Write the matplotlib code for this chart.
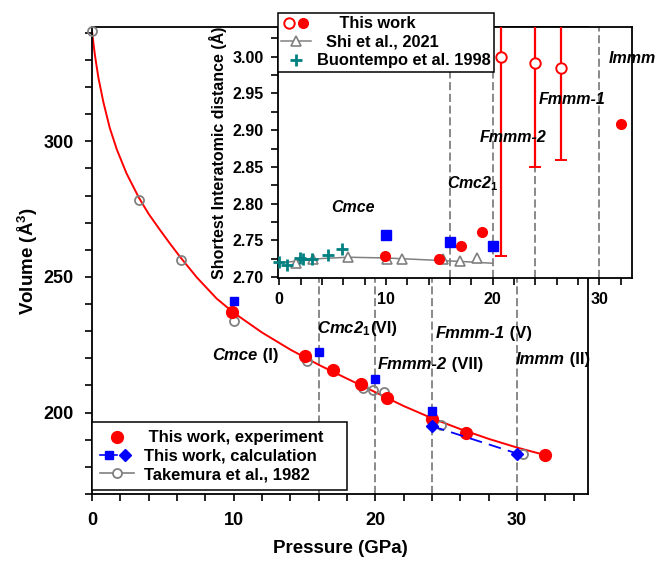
import matplotlib
matplotlib.use('Agg')
import matplotlib.pyplot as plt
from matplotlib.lines import Line2D
from matplotlib.legend_handler import HandlerTuple
from matplotlib.ticker import MultipleLocator, FormatStrFormatter

plt.rcParams['font.family'] = ['Liberation Sans', 'DejaVu Sans']
plt.rcParams['font.weight'] = 'bold'
plt.rcParams['axes.labelweight'] = 'bold'
plt.rcParams['mathtext.fontset'] = 'custom'
plt.rcParams['mathtext.rm'] = 'Liberation Sans:bold'
plt.rcParams['mathtext.it'] = 'Liberation Sans:italic:bold'
plt.rcParams['mathtext.default'] = 'rm'

# --- dados: volume x pressao ---
p_fit = [0, 0.2, 0.45, 0.8, 1.25, 1.75, 2.45, 3.3, 4.0, 4.8, 5.5, 6.2, 7.4, 8.8,
         10, 12, 14, 16, 18, 20, 22, 24, 26, 28, 30, 32]
v_fit = [340.5, 332, 323.5, 314.5, 305, 297, 288, 279.3, 273.2, 267.3, 262.3, 257.5,
         249.8, 242, 236.8, 229.5, 223.2, 217.6, 212.5, 207.5, 202.4, 197.9, 193.9,
         190.3, 187.1, 184.3]

p_exp = [9.9, 15.0, 17.0, 19.0, 20.8, 24.0, 26.4, 32.0]
v_exp = [237.1, 220.9, 215.6, 210.4, 205.4, 197.8, 192.6, 184.3]

p_calc = [10, 16, 20, 24]
v_calc = [241.0, 222.3, 212.2, 200.5]
p_calc2 = [24, 30]
v_calc2 = [195.0, 184.9]

p_tak = [0, 3.3, 6.3, 10.0, 15.2, 19.1, 19.8, 20.6, 24.6, 30.4]
v_tak = [340.7, 278.3, 256.4, 233.7, 218.9, 209.0, 208.3, 207.5, 195.3, 184.6]

transicoes = [16, 20, 24, 30]

# --- dados: menor distancia interatomica ---
p_d_cheio = [9.9, 15.0, 17.0, 19.0, 32.0]
d_cheio = [2.729, 2.7245, 2.742, 2.762, 2.908]
p_d_aberto = [20.8, 24.0, 26.4]
d_aberto = [3.000, 2.991, 2.984]
erro_aberto = [0.271, 0.1415, 0.125]

p_d_calc = [10, 16, 20]
d_calc = [2.7577, 2.7477, 2.743]

p_shi = [1.6, 3.2, 6.4, 10.1, 11.5, 15.3, 16.9, 18.5]
d_shi = [2.719, 2.7245, 2.728, 2.7245, 2.7245, 2.7245, 2.722, 2.726]
p_shi_linha = [0, 2, 4, 6.5, 10, 14, 17, 20]
d_shi_linha = [2.7195, 2.7225, 2.7255, 2.7272, 2.7262, 2.7235, 2.7215, 2.719]

p_buon = [0.0, 0.7, 1.9, 2.2, 3.1, 4.6, 5.9]
d_buon = [2.7205, 2.717, 2.726, 2.7245, 2.7245, 2.730, 2.739]

cinza = '#808080'
verm = '#ff0000'
azul = '#0000ff'
verde = '#008080'

fig = plt.figure(figsize=(6.57, 5.65), dpi=100)
ax = fig.add_axes([0.140, 0.1257, 0.755, 0.826])

for p in transicoes:
    ax.axvline(p, color=cinza, ls=(0, (4.5, 2)), lw=1.3, zorder=1)

ax.plot(p_fit, v_fit, color=verm, lw=1.4, zorder=2)
ax.plot(p_tak, v_tak, 'o', ms=6.5, mfc='none', mec=cinza, mew=1.3, zorder=3, clip_on=False)
ax.plot(p_exp, v_exp, 'o', ms=8.5, color=verm, zorder=4)
ax.plot(p_calc, v_calc, 's', ms=6, color=azul, zorder=5)
ax.plot(p_calc2, v_calc2, 'D', ms=6, color=azul, ls=(0, (7, 4)), lw=1.3, zorder=5)

ax.set_xlim(0, 35)
ax.set_ylim(170, 342)
ax.xaxis.set_major_locator(MultipleLocator(10))
ax.xaxis.set_minor_locator(MultipleLocator(2))
ax.yaxis.set_major_locator(MultipleLocator(50))
ax.yaxis.set_minor_locator(MultipleLocator(10))
ax.tick_params(which='both', direction='out', length=5, width=1.2, top=False, right=False)
ax.tick_params(which='major', labelsize=13, pad=8)
for s in ax.spines.values():
    s.set_linewidth(1.3)
ax.set_xlabel('Pressure (GPa)', fontsize=13.5, labelpad=8)
ax.set_ylabel('Volume (Å$^3$)', fontsize=13.5, labelpad=3)


def rotulo(eixo, x, y, italico, resto, tam):
    eixo.text(x, y, italico, style='italic', fontsize=tam, ha='right', va='center', zorder=6)
    eixo.text(x, y, resto, fontsize=tam, ha='left', va='center', zorder=6)


rotulo(ax, 11.68, 221.1, 'Cmce', ' (I)', 12)
rotulo(ax, 19.65, 231.0, 'Cmc2$_1$', '(VI)', 12)
rotulo(ax, 25.05, 217.8, 'Fmmm-2', ' (VII)', 12)
rotulo(ax, 29.15, 229.1, 'Fmmm-1', ' (V)', 12)
rotulo(ax, 33.38, 219.6, 'Immm', ' (II)', 12)

h_exp = Line2D([], [], ls='none', marker='o', ms=8.5, color=verm)
h_calc_a = Line2D([], [], color=azul, lw=1.2, marker='s', ms=6)
h_calc_b = Line2D([], [], ls='none', marker='D', ms=6, color=azul)
h_tak = Line2D([], [], color=cinza, lw=1.2, marker='o', ms=6.5, mfc='white', mec=cinza, mew=1.3)
leg = ax.legend([h_exp, (h_calc_a, h_calc_b), h_tak],
                [' This work, experiment', 'This work, calculation', 'Takemura et al., 1982'],
                handler_map={tuple: HandlerTuple(ndivide=None, pad=0)},
                loc='upper left', mode='expand',
                bbox_to_anchor=(92 / 657, 73 / 565, 255 / 657, 70 / 565),
                bbox_transform=fig.transFigure, borderaxespad=0, fontsize=12,
                frameon=True, fancybox=False, edgecolor='black', framealpha=1,
                labelspacing=0.2, handlelength=2.0, handletextpad=0.6, borderpad=0.5)
leg.get_frame().set_linewidth(1.1)
leg.set_zorder(10)

# --- grafico interno ---
ins = fig.add_axes([0.423, 0.508, 0.539, 0.444])
for p in transicoes:
    ins.axvline(p, color=cinza, ls=(0, (4.5, 2)), lw=1.3, zorder=1)

ins.plot(p_shi_linha, d_shi_linha, color=cinza, lw=1.1, zorder=2)
ins.plot(p_shi, d_shi, '^', ms=7, mfc='white', mec=cinza, mew=1.2, zorder=3)
ins.plot(p_buon, d_buon, '+', ms=8, mew=2, color=verde, zorder=3, clip_on=False)
ins.plot(p_d_calc, d_calc, 's', ms=7, color=azul, zorder=4)
ins.plot(p_d_cheio, d_cheio, 'o', ms=7, color=verm, zorder=4)
ins.errorbar(p_d_aberto, d_aberto, yerr=erro_aberto, fmt='o', ms=7.5, mfc='white',
             mec=verm, mew=1.4, ecolor=verm, elinewidth=1.6, capsize=4.5, capthick=1.6,
             zorder=4)

ins.set_xlim(-0.13, 33.06)
ins.set_ylim(2.699, 3.04)
ins.xaxis.set_major_locator(MultipleLocator(10))
ins.xaxis.set_minor_locator(MultipleLocator(2))
ins.yaxis.set_major_locator(MultipleLocator(0.05))
ins.yaxis.set_minor_locator(MultipleLocator(0.025))
ins.yaxis.set_major_formatter(FormatStrFormatter('%.2f'))
ins.tick_params(which='both', direction='out', length=5, width=1.2, top=False, right=False)
ins.tick_params(which='major', labelsize=11.5, pad=5)
for s in ins.spines.values():
    s.set_linewidth(1.3)
ins.set_ylabel('Shortest Interatomic distance (Å)', fontsize=11.5, labelpad=4)

for txt, x, y in [('Cmce', 6.93, 2.795), ('Cmc2$_1$', 18.18, 2.827),
                  ('Fmmm-2', 21.93, 2.8896), ('Fmmm-1', 27.41, 2.9418)]:
    ins.text(x, y, txt, style='italic', fontsize=11.5, ha='center', va='center', zorder=6)
ins.text(33.11, 2.998, 'Immm', style='italic', fontsize=11.5, ha='center', va='center',
         zorder=6, clip_on=False)

h_aberto = Line2D([], [], ls='none', marker='o', ms=7.5, mfc='white', mec=verm, mew=1.4)
h_cheio = Line2D([], [], ls='none', marker='o', ms=7, color=verm)
h_shi = Line2D([], [], color=cinza, lw=1.1, marker='^', ms=7, mfc='white', mec=cinza, mew=1.2)
h_buon = Line2D([], [], ls='none', marker='+', ms=8, mew=2, color=verde)
leg2 = ins.legend([(h_aberto, h_cheio), h_shi, h_buon],
                  ['     This work', '  Shi et al., 2021', 'Buontempo et al. 1998'],
                  handler_map={tuple: HandlerTuple(ndivide=None, pad=0)},
                  loc='upper left',
                  bbox_to_anchor=(278 / 657, 1 - 13 / 565),
                  bbox_transform=fig.transFigure, borderaxespad=0, fontsize=11.8,
                  frameon=True, fancybox=False, edgecolor='black', framealpha=1,
                  labelspacing=0.22, handlelength=1.8, handletextpad=0.35, borderpad=0.2)
leg2.get_frame().set_linewidth(1.1)
leg2.set_zorder(10)

fig.savefig('out.png', dpi=100)
